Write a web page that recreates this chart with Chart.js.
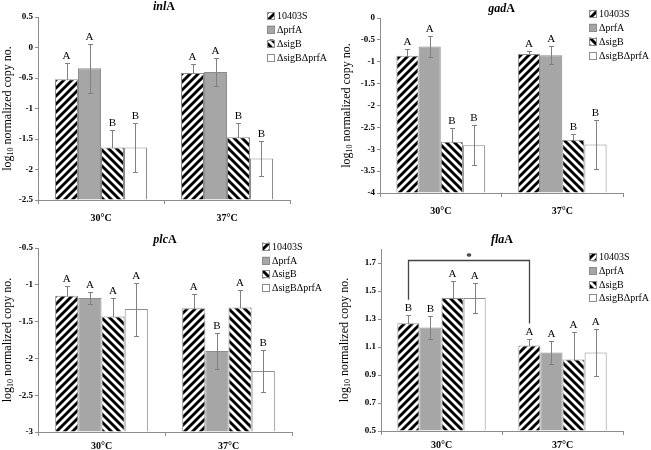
<!DOCTYPE html>
<html><head><meta charset="utf-8">
<script src="https://cdn.jsdelivr.net/npm/chart.js@4/dist/chart.umd.min.js"></script>
<style>
html,body{margin:0;padding:0;background:#fff;}
#wrap{position:relative;width:651px;height:450px;overflow:hidden;background:#fff}
canvas{position:absolute;left:0;top:0}
</style></head><body><div id="wrap">
<canvas id="c0" width="651" height="450"></canvas>
<canvas id="c1" width="651" height="450"></canvas>
<canvas id="c2" width="651" height="450"></canvas>
<canvas id="c3" width="651" height="450"></canvas>
</div>
<script>
// ---------- data ----------
const categories = ['30°C', '37°C'];
const seriesNames = ['10403S', 'ΔprfA', 'ΔsigB', 'ΔsigBΔprfA'];

// inlA
const inlA_ticks = [-2.5, -2, -1.5, -1, -0.5, 0, 0.5];
const inlA_10403S = [-0.52, -0.42];   const inlA_10403S_err = [0.26, 0.15];
const inlA_prfA   = [-0.34, -0.40];   const inlA_prfA_err   = [0.40, 0.23];
const inlA_sigB   = [-1.64, -1.47];   const inlA_sigB_err   = [0.29, 0.23];
const inlA_sigBprfA = [-1.64, -1.82]; const inlA_sigBprfA_err = [0.40, 0.28];
const inlA_letters = [['A','A'], ['A','A'], ['B','B'], ['B','B']];

// gadA
const gadA_ticks = [-4, -3.5, -3, -2.5, -2, -1.5, -1, -0.5, 0];
const gadA_10403S = [-0.86, -0.82];   const gadA_10403S_err = [0.15, 0.06];
const gadA_prfA   = [-0.65, -0.85];   const gadA_prfA_err   = [0.25, 0.21];
const gadA_sigB   = [-2.83, -2.78];   const gadA_sigB_err   = [0.31, 0.14];
const gadA_sigBprfA = [-2.91, -2.89]; const gadA_sigBprfA_err = [0.46, 0.55];
const gadA_letters = [['A','A'], ['A','A'], ['B','B'], ['B','B']];

// plcA
const plcA_ticks = [-3, -2.5, -2, -1.5, -1, -0.5];
const plcA_10403S = [-1.15, -1.32];   const plcA_10403S_err = [0.13, 0.20];
const plcA_prfA   = [-1.18, -1.90];   const plcA_prfA_err   = [0.08, 0.24];
const plcA_sigB   = [-1.43, -1.31];   const plcA_sigB_err   = [0.25, 0.24];
const plcA_sigBprfA = [-1.33, -2.17]; const plcA_sigBprfA_err = [0.36, 0.28];
const plcA_letters = [['A','A'], ['A','B'], ['A','A'], ['A','B']];

// flaA
const flaA_ticks = [0.5, 0.7, 0.9, 1.1, 1.3, 1.5, 1.7];
const flaA_10403S = [1.27, 1.11];     const flaA_10403S_err = [0.06, 0.05];
const flaA_prfA   = [1.24, 1.06];     const flaA_prfA_err   = [0.08, 0.08];
const flaA_sigB   = [1.45, 1.01];     const flaA_sigB_err   = [0.12, 0.20];
const flaA_sigBprfA = [1.45, 1.06];   const flaA_sigBprfA_err = [0.11, 0.17];
const flaA_letters = [['B','A'], ['B','A'], ['A','A'], ['A','A']];
const flaA_bracketValue = 1.725;
const flaA_bracketLabel = '*';

// ---------- styling ----------
const SERIF = "'Liberation Serif', 'Times New Roman', serif";
const GREY_FILL = '#a6a6a6';
const BORDER = '#8c8c8c';
const AXIS = '#8c8c8c';
const ERR = '#808080';

function stripePattern(dir) {
  const s = 8;
  const c = document.createElement('canvas');
  c.width = s; c.height = s;
  const g = c.getContext('2d');
  g.fillStyle = '#fff'; g.fillRect(0, 0, s, s);
  g.strokeStyle = '#000'; g.lineWidth = 2.9; g.lineCap = 'square';
  g.beginPath();
  if (dir === '/') {
    g.moveTo(-s, s); g.lineTo(s, -s);
    g.moveTo(0, s * 2); g.lineTo(s * 2, 0);
    g.moveTo(-s/2, s*1.5); g.lineTo(s*1.5, -s/2);
  } else {
    g.moveTo(-s, 0); g.lineTo(s, s * 2);
    g.moveTo(0, -s); g.lineTo(s * 2, s);
    g.moveTo(-s/2, -s/2); g.lineTo(s*1.5, s*1.5);
  }
  g.stroke();
  return g.createPattern(c, 'repeat');
}
const patFwd = stripePattern('/');
const patBack = stripePattern('\\');
const fills = [patFwd, GREY_FILL, patBack, '#ffffff'];

const panels = [
  { id: 'c0', gene: ['inl', 'A'], L: 38, T: 17, R: 290, B: 200, min: -2.5, max: 0.5, ticks: inlA_ticks,
    vals: [inlA_10403S, inlA_prfA, inlA_sigB, inlA_sigBprfA],
    errs: [inlA_10403S_err, inlA_prfA_err, inlA_sigB_err, inlA_sigBprfA_err],
    letters: inlA_letters, titleY: 7, yTitleX: 8, legX: 267, legY: [16, 29.5, 43.5, 57.5], xPad: 8 },
  { id: 'c1', gene: ['gad', 'A'], L: 380, T: 18, R: 623, B: 193, min: -4, max: 0, ticks: gadA_ticks,
    vals: [gadA_10403S, gadA_prfA, gadA_sigB, gadA_sigBprfA],
    errs: [gadA_10403S_err, gadA_prfA_err, gadA_sigB_err, gadA_sigBprfA_err],
    letters: gadA_letters, titleY: 9, yTitleX: 347, legX: 589, legY: [14, 27.7, 41.7, 56], xPad: 8 },
  { id: 'c2', gene: ['plc', 'A'], L: 38, T: 248, R: 292, B: 432, min: -3, max: -0.5, ticks: plcA_ticks,
    vals: [plcA_10403S, plcA_prfA, plcA_sigB, plcA_sigBprfA],
    errs: [plcA_10403S_err, plcA_prfA_err, plcA_sigB_err, plcA_sigBprfA_err],
    letters: plcA_letters, titleY: 240, yTitleX: 8, legX: 262, legY: [246.7, 260.7, 274.3, 288.3], xPad: 4 },
  { id: 'c3', gene: ['fla', 'A'], L: 381, T: 249, R: 623, B: 431, min: 0.5, max: 1.8, ticks: flaA_ticks,
    vals: [flaA_10403S, flaA_prfA, flaA_sigB, flaA_sigBprfA],
    errs: [flaA_10403S_err, flaA_prfA_err, flaA_sigB_err, flaA_sigBprfA_err],
    letters: flaA_letters, titleY: 240, yTitleX: 345, legX: 589, legY: [257.3, 271, 285, 298.3], xPad: 4,
    bracket: { value: flaA_bracketValue, label: flaA_bracketLabel } }
];

const YW = 30, XH = 26;

function capTop(chart, p, i, j) {
  const y = chart.scales.y;
  return y.getPixelForValue(p.vals[i][j] + p.errs[i][j]);
}

function drawErr(chart, p, i) {
  const ctx = chart.ctx, y = chart.scales.y;
  const meta = chart.getDatasetMeta(i);
  ctx.save();
  ctx.strokeStyle = ERR; ctx.lineWidth = 1;
  meta.data.forEach((bar, j) => {
    const x = Math.round(bar.x) + 0.5;
    const t = Math.round(y.getPixelForValue(p.vals[i][j] + p.errs[i][j])) + 0.5;
    const b = Math.round(y.getPixelForValue(p.vals[i][j] - p.errs[i][j])) + 0.5;
    ctx.beginPath();
    ctx.moveTo(x, t); ctx.lineTo(x, b);
    ctx.moveTo(x - 2.5, t); ctx.lineTo(x + 2.5, t);
    ctx.moveTo(x - 2.5, b); ctx.lineTo(x + 2.5, b);
    ctx.stroke();
  });
  ctx.restore();
}

function makePlugin(p) {
  return {
    id: 'decor' + p.id,
    beforeDatasetsDraw(chart) { drawErr(chart, p, 0); drawErr(chart, p, 2); },
    afterDatasetsDraw(chart) {
      drawErr(chart, p, 1); drawErr(chart, p, 3);
      const ctx = chart.ctx;
      ctx.save();
      // letters
      ctx.fillStyle = '#000';
      ctx.font = '11px ' + SERIF;
      ctx.textAlign = 'center'; ctx.textBaseline = 'alphabetic';
      for (let i = 0; i < 4; i++) {
        const meta = chart.getDatasetMeta(i);
        meta.data.forEach((bar, j) => {
          ctx.fillText(p.letters[i][j], bar.x, capTop(chart, p, i, j) - 4);
        });
      }
      // title
      const cx = (chart.chartArea.left + chart.chartArea.right) / 2;
      ctx.textBaseline = 'middle';
      ctx.font = 'italic bold 12px ' + SERIF;
      const w1 = ctx.measureText(p.gene[0]).width;
      ctx.font = 'bold 12px ' + SERIF;
      const w2 = ctx.measureText(p.gene[1]).width;
      let sx = cx - (w1 + w2) / 2;
      ctx.textAlign = 'left';
      ctx.font = 'italic bold 12px ' + SERIF;
      ctx.fillText(p.gene[0], sx, p.titleY);
      ctx.font = 'bold 12px ' + SERIF;
      ctx.fillText(p.gene[1], sx + w1, p.titleY);
      // legend
      ctx.font = '10px ' + SERIF;
      seriesNames.forEach((name, i) => {
        const ly = p.legY[i];
        ctx.fillStyle = fills[i];
        ctx.fillRect(p.legX, ly - 4, 8, 8);
        ctx.strokeStyle = BORDER; ctx.lineWidth = 1;
        ctx.strokeRect(p.legX + 0.5, Math.round(ly - 4) + 0.5, 7, 7);
        ctx.fillStyle = '#000';
        ctx.fillText(name, p.legX + 10, ly + 0.5);
      });
      // y title
      const cy = (chart.chartArea.top + chart.chartArea.bottom) / 2;
      ctx.translate(p.yTitleX, cy);
      ctx.rotate(-Math.PI / 2);
      const big = '12px ' + SERIF, small = '8px ' + SERIF;
      ctx.font = big; const a = ctx.measureText('log').width;
      ctx.font = small; const b = ctx.measureText('10').width;
      ctx.font = big; const c = ctx.measureText(' normalized copy no.').width;
      let tx = -(a + b + c) / 2;
      ctx.fillStyle = '#000';
      ctx.font = big; ctx.fillText('log', tx, 0);
      ctx.font = small; ctx.fillText('10', tx + a, 3);
      ctx.font = big; ctx.fillText(' normalized copy no.', tx + a + b, 0);
      ctx.restore();
      // bracket
      if (p.bracket) {
        const m = chart.getDatasetMeta(0);
        const x1 = Math.round(m.data[0].x) + 0.5, x2 = Math.round(m.data[1].x) + 0.5;
        const yt = Math.round(chart.scales.y.getPixelForValue(p.bracket.value)) + 0.5;
        const b1 = capTop(chart, p, 0, 0) - 15, b2 = capTop(chart, p, 0, 1) - 15;
        ctx.save();
        ctx.strokeStyle = '#444'; ctx.lineWidth = 1.3;
        ctx.beginPath();
        ctx.moveTo(x1, b1); ctx.lineTo(x1, yt); ctx.lineTo(x2, yt); ctx.lineTo(x2, b2);
        ctx.stroke();
        ctx.fillStyle = '#000'; ctx.font = 'bold 11px ' + SERIF;
        ctx.textAlign = 'center'; ctx.textBaseline = 'alphabetic';
        ctx.fillText(p.bracket.label, (x1 + x2) / 2, yt - 1);
        ctx.restore();
      }
    }
  };
}

panels.forEach(p => {
  const datasets = seriesNames.map((name, i) => ({
    label: name,
    data: p.vals[i],
    base: p.min,
    backgroundColor: fills[i],
    borderColor: BORDER,
    borderWidth: 1,
    categoryPercentage: 0.73,
    barPercentage: 1.0
  }));
  new Chart(document.getElementById(p.id), {
    type: 'bar',
    data: { labels: categories, datasets },
    options: {
      responsive: false, animation: false, devicePixelRatio: 1, events: [],
      layout: { padding: { left: p.L - YW, top: p.T, right: 651 - p.R, bottom: Math.max(0, 450 - p.B - XH) } },
      plugins: { legend: { display: false }, title: { display: false }, tooltip: { enabled: false } },
      scales: {
        x: {
          offset: true,
          grid: { offset: true, drawOnChartArea: false, drawTicks: true, tickLength: 4, color: AXIS },
          border: { color: AXIS },
          ticks: { font: { family: SERIF, weight: 'bold', size: 10 }, color: '#000', padding: p.xPad, maxRotation: 0 },
          afterFit(s) { s.height = Math.min(XH, 450 - p.B); }
        },
        y: {
          min: p.min, max: p.max,
          afterBuildTicks(s) { s.ticks = p.ticks.map(v => ({ value: v })); },
          grid: { drawOnChartArea: false, drawTicks: true, tickLength: 3, color: AXIS },
          border: { color: AXIS },
          ticks: { font: { family: SERIF, weight: 'bold', size: 9 }, color: '#000', padding: 2,
                   callback: v => String(Math.round(v * 10) / 10) },
          afterFit(s) { s.width = YW; }
        }
      }
    },
    plugins: [makePlugin(p)]
  });
});
</script>
</body></html>
